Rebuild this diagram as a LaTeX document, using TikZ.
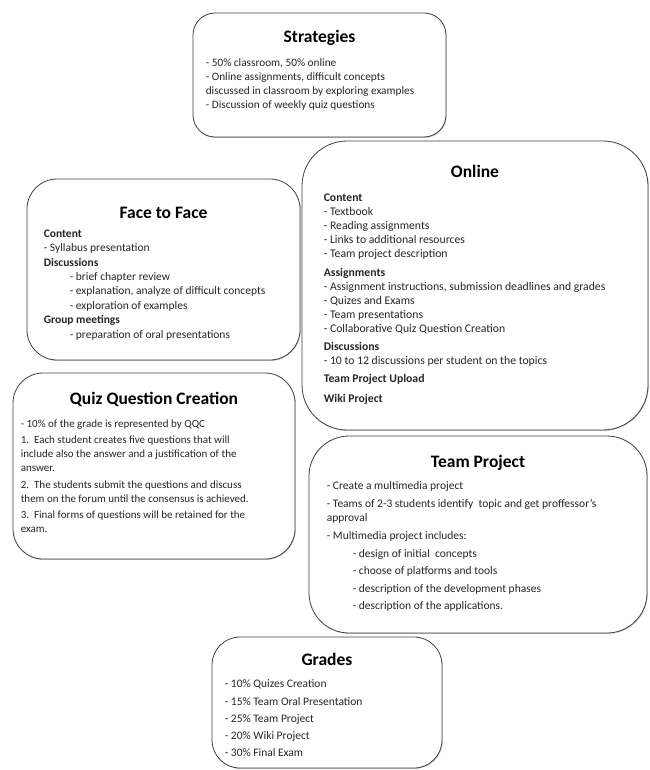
\documentclass[tikz,border=0pt]{standalone}
\usepackage{fontspec}
\setmainfont{Carlito}
\usetikzlibrary{positioning,shadows}

\tikzset{
  box/.style={draw=black!75, line width=0.8pt, fill=white, rounded corners=#1,
    drop shadow={shadow xshift=0.7pt, shadow yshift=-0.9pt, opacity=0.45}},
  box/.default=25pt,
  heading/.style={font=\fontsize{17.5}{20}\selectfont\bfseries, inner sep=0pt},
  entries/.style={font=\fontsize{11}{14}\selectfont, align=left, inner sep=0pt, text=black!85},
}
\newcommand{\indentitem}{\hspace*{26pt}- }

\begin{document}
\begin{tikzpicture}[x=1pt, y=-1pt]
  \useasboundingbox (0,0) rectangle (649,770);

  % Strategies
  \node[box=22pt, minimum width=253pt, minimum height=124pt] (strategies) at (319.5,75) {};
  \node[heading] (strategies-title) at ([yshift=-25pt]strategies.north) {Strategies};
  \node[entries, font=\fontsize{11.3}{14}\selectfont, below right=46pt and 13pt of strategies.north west] (strategies-text)
    {- 50\% classroom, 50\% online\\
     - Online assignments, difficult concepts\\
     discussed in classroom by exploring examples\\
     - Discussion of weekly quiz questions};

  % Face to Face
  \node[box=30pt, minimum width=273pt, minimum height=181pt] (face) at (163.5,269.5) {};
  \node[heading] (face-title) at ([yshift=-34pt]face.north) {Face to Face};
  \node[entries, font=\fontsize{11.5}{14.4}\selectfont, below right=51pt and 17pt of face.north west] (face-text)
    {{\bfseries Content}\\
     - Syllabus presentation\\
     {\bfseries Discussions}\\
     \indentitem brief chapter review\\
     \indentitem explanation, analyze of difficult concepts\\
     \indentitem exploration of examples\\
     {\bfseries Group meetings}\\
     \indentitem preparation of oral presentations};

  % Online
  \node[box=45pt, minimum width=346pt, minimum height=289pt] (online) at (475,285.5) {};
  \node[heading] (online-title) at ([yshift=-31pt]online.north) {Online};
  \node[entries, font=\fontsize{11.7}{14}\selectfont, below right=53pt and 22pt of online.north west] (online-text)
    {{\bfseries Content}\\
     - Textbook\\
     - Reading assignments\\
     - Links to additional resources\\
     - Team project description\\[5pt]
     {\bfseries Assignments}\\
     - Assignment instructions, submission deadlines and grades\\
     - Quizes and Exams\\
     - Team presentations\\
     - Collaborative Quiz Question Creation\\[4pt]
     {\bfseries Discussions}\\
     - 10 to 12 discussions per student on the topics\\[4pt]
     {\bfseries Team Project Upload}\\[6pt]
     {\bfseries Wiki Project}};

  % Quiz Question Creation
  \node[box=30pt, minimum width=282pt, minimum height=186pt] (quiz) at (154,466) {};
  \node[heading] (quiz-title) at ([yshift=-27pt]quiz.north) {Quiz Question Creation};
  \node[entries, below right=47pt and 8pt of quiz.north west] (quiz-text)
    {- 10\% of the grade is represented by QQC\\[2.5pt]
     1.\ \ Each student creates five questions that will\\
     include also the answer and a justification of the\\
     answer.\\[2.5pt]
     2.\ \ The students submit the questions and discuss\\
     them on the forum until the consensus is achieved.\\[2.5pt]
     3.\ \ Final forms of questions will be retained for the\\
     exam.};

  % Team Project
  \node[box=40pt, minimum width=338pt, minimum height=197pt] (team) at (478,534.5) {};
  \node[heading] (team-title) at ([yshift=-27pt]team.north) {Team Project};
  \node[entries, font=\fontsize{11.5}{13.5}\selectfont, below right=46pt and 18pt of team.north west] (team-text)
    {- Create a multimedia project\\[4.5pt]
     - Teams of 2-3 students identify\ \ topic and get proffessor's\\
     approval\\[4.5pt]
     - Multimedia project includes:\\[4.5pt]
     \indentitem design of initial\ \ concepts\\[4pt]
     \indentitem choose of platforms and tools\\[4pt]
     \indentitem description of the development phases\\[4pt]
     \indentitem description of the applications.};

  % Grades
  \node[box=28pt, minimum width=230pt, minimum height=131pt] (grades) at (327,702.5) {};
  \node[heading] (grades-title) at ([yshift=-23pt]grades.north) {Grades};
  \node[entries, font=\fontsize{11.5}{14}\selectfont, below right=43pt and 13pt of grades.north west] (grades-text)
    {- 10\% Quizes Creation\\[3.3pt]
     - 15\% Team Oral Presentation\\[3.3pt]
     - 25\% Team Project\\[3.3pt]
     - 20\% Wiki Project\\[3.3pt]
     - 30\% Final Exam};
\end{tikzpicture}
\end{document}
